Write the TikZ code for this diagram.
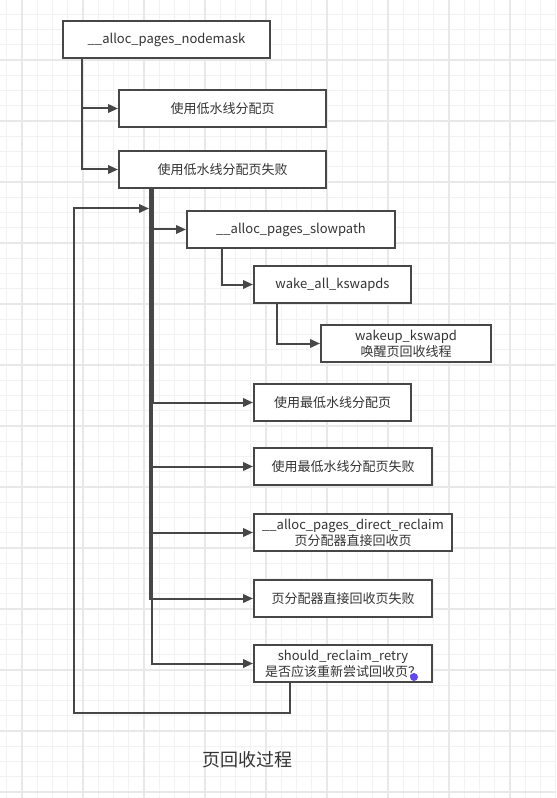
\documentclass[tikz,border=0pt]{standalone}
\usepackage{fontspec}
\setmainfont{Noto Sans CJK SC}
\usetikzlibrary{arrows.meta}
\definecolor{ln}{HTML}{474747}
\definecolor{tx}{HTML}{333333}
\definecolor{gminor}{HTML}{F2F2F2}
\definecolor{gmajor}{HTML}{E8E8E8}
\definecolor{dotc}{HTML}{6347F2}
\begin{document}
\begin{tikzpicture}[x=0.75pt,y=-0.75pt,
  box/.style={draw=ln, line width=1.5pt, fill=white, text=tx, inner sep=0pt,
    minimum height=37*0.75pt, font=\fontsize{9.75}{12}\selectfont, align=center},
  conn/.style={draw=ln, line width=1.5pt, -{Triangle[length=7.5pt,width=6.4pt]}},
  plainline/.style={draw=ln, line width=1.5pt},
  gridminor/.style={draw=gminor, line width=0.75pt},
  gridmajor/.style={draw=gmajor, line width=1pt},
  title/.style={text=tx, font=\fontsize{13.5}{16}\selectfont}]
\useasboundingbox (0,0) rectangle (556,798);
\fill[white] (0,0) rectangle (556,798);
% grid
\foreach \i in {0,...,36} \draw[gridminor] ({6.75+15.25*\i},0) -- ({6.75+15.25*\i},798);
\foreach \i in {0,...,52} \draw[gridminor] (0,{-1+15.25*\i}) -- (556,{-1+15.25*\i});
\foreach \i in {0,...,8} \draw[gridmajor] ({22+61*\i},0) -- ({22+61*\i},798);
\foreach \i in {1,...,13} \draw[gridmajor] (0,{-1+61*\i}) -- (556,{-1+61*\i});

% nodes
\node[box, minimum width=207*0.75pt] (B1) at (166.5,39.5) {\_\_alloc\_pages\_nodemask};
\node[box, minimum width=207*0.75pt] (B2) at (222.5,108.5) {使用低水线分配页};
\node[box, minimum width=207*0.75pt] (B3) at (222.5,169.5) {使用低水线分配页失败};
\node[box, minimum width=208*0.75pt] (B4) at (291,229.5) {\_\_alloc\_pages\_slowpath};
\node[box, minimum width=157*0.75pt] (B5) at (332.5,284.5) {wake\_all\_kswapds};
\node[box, minimum width=170*0.75pt] (B6) at (406,343.5) {wakeup\_kswapd\\唤醒页回收线程};
\node[box, minimum width=157*0.75pt] (B7) at (332.5,402.5) {使用最低水线分配页};
\node[box, minimum width=178*0.75pt] (B8) at (343,466.5) {使用最低水线分配页失败};
\node[box, minimum width=198*0.75pt] (B9) at (353,532.5) {\_\_alloc\_pages\_direct\_reclaim\\页分配器直接回收页};
\node[box, minimum width=178*0.75pt] (B10) at (343,598.5) {页分配器直接回收页失败};
\node[box, minimum width=178*0.75pt] (B11) at (343,663.5) {should\_reclaim\_retry\\是否应该重新尝试回收页？};

\coordinate (loopBL) at (73.5,713);
\coordinate (loopEnd) at (149,208.5);

% connectors
\draw[conn] ([xshift=15pt]B1.south west) |- (B2.west);
\draw[conn] ([xshift=15pt]B1.south west) |- (B3.west);
\draw[conn] ([xshift=24pt]B3.south west) |- (B4.west);
\draw[conn] ([xshift=26.25pt]B3.south west) |- (B7.west);
\draw[conn] ([xshift=25.1pt]B3.south west) |- (B8.west);
\draw[conn] ([xshift=25.5pt]B3.south west) |- (B9.west);
\draw[conn] ([xshift=23.85pt]B3.south west) |- (B10.west);
\draw[conn] ([xshift=25.5pt]B3.south west) |- (B11.west);
\draw[conn] ([xshift=27pt]B4.south west) |- (B5.west);
\draw[conn] ([xshift=18pt]B5.south west) |- (B6.west);
\draw[conn] ([xshift=27.75pt]B11.south west) |- (loopBL) |- (loopEnd);

\fill[dotc] (414,677) circle (4);
\node[title] (T) at (247,760) {页回收过程};
\end{tikzpicture}
\end{document}
